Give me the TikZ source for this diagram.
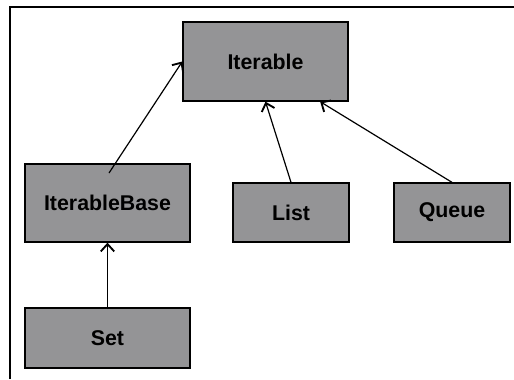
\documentclass[tikz,border=0pt]{standalone}
\usepackage{fontspec}
\setmainfont{Liberation Sans}
\usetikzlibrary{arrows.meta}
\definecolor{boxgray}{RGB}{148,148,150}
\begin{document}
\begin{tikzpicture}[x=0.75pt,y=-0.75pt,
		cls/.style={draw=black,line width=1pt,fill=boxgray,inner sep=0pt,font=\bfseries\fontsize{16}{19}\selectfont},
		inh/.style={line width=0.9pt,-{Straight Barb[length=5.5pt,width=10pt,line width=1.4pt]}}]
	\useasboundingbox (0,0) rectangle (514,379);
	\draw [black,line width=0.9pt] (10,379) -- (10,7) -- (514,7);
	\node [cls,minimum width=123.75pt,minimum height=59.25pt] (iterable) at (265.5,61.5) {Iterable};
	\node [cls,minimum width=123.75pt,minimum height=58.5pt] (ibase) at (107.5,203) {IterableBase};
	\node [cls,minimum width=87pt,minimum height=44.25pt] (list) at (291,212.5) {List};
	\node [cls,minimum width=87pt,minimum height=44.25pt] (queue) at (452,212.5) {Queue};
	\node [cls,minimum width=123.75pt,minimum height=45pt] (set) at (107.5,338) {Set};
	\coordinate (ibtail) at (109,173);
	\draw [inh] (ibtail) -- (iterable.west);
	\draw [inh] (list.north) -- (iterable.south);
	\draw [inh] (queue.north) -- ([xshift=41pt]iterable.south);
	\draw [inh] (set.north) -- (ibase.south);
\end{tikzpicture}
\end{document}
